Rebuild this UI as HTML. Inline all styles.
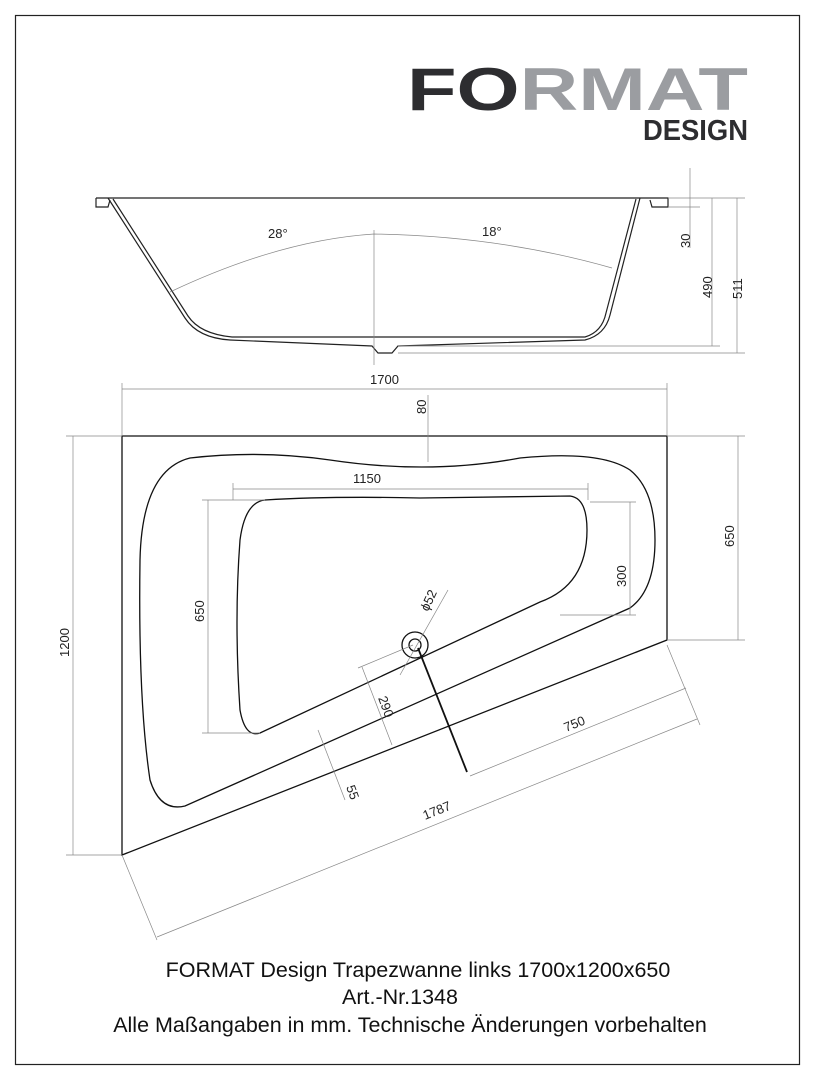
<!DOCTYPE html>
<html><head><meta charset="utf-8"><style>body{margin:0;background:#fff}svg{display:block}</style></head><body>
<svg width="816" height="1080" viewBox="0 0 816 1080" xmlns="http://www.w3.org/2000/svg" font-family="Liberation Sans, sans-serif">
<rect x="15.5" y="15.5" width="784" height="1049" fill="none" stroke="#222" stroke-width="1.2"/>
<!-- logo -->
<text x="407" y="110" font-size="60" font-weight="bold" textLength="341" lengthAdjust="spacingAndGlyphs"><tspan fill="#2d2d30">FO</tspan><tspan fill="#9b9da1">RMAT</tspan></text>
<text x="643" y="140" font-size="29" font-weight="bold" fill="#2d2d30" textLength="105" lengthAdjust="spacingAndGlyphs">DESIGN</text>
<!-- side view -->
<g fill="none" stroke="#222" stroke-width="1.2">
<path d="M96 198 H668 V207 H652 L650 200 M96 198 V207 H108 L110 200"/>
<path d="M108 198 L185 318 Q198 338 230 340 L372 346 L378 353 H392 L398 346 L585 340 Q605 335 610 315 L640 198"/>
<path d="M113 199 L188 316 Q200 334 232 337 L585 337 Q602 332 606 313 L636 199"/>
</g>
<g fill="none" stroke="#888" stroke-width="0.7">
<line x1="374" y1="230" x2="374" y2="365"/>
<path d="M170 292 Q280 240 374 234 Q500 236 612 268"/>
<line x1="690" y1="168" x2="690" y2="248"/><line x1="712" y1="198" x2="712" y2="346"/><line x1="737" y1="198" x2="737" y2="353"/>
<line x1="668" y1="198" x2="745" y2="198"/><line x1="668" y1="207" x2="700" y2="207"/>
<line x1="398" y1="346" x2="720" y2="346"/><line x1="398" y1="353" x2="745" y2="353"/>
</g>
<g font-size="13" fill="#222">
<text x="268" y="238">28°</text><text x="482" y="236">18°</text>
<text transform="translate(690,248) rotate(-90)">30</text>
<text transform="translate(712,298) rotate(-90)">490</text>
<text transform="translate(742,299) rotate(-90)">511</text>
</g>
<!-- plan view -->
<g fill="none" stroke="#111" stroke-width="1.3">
<path d="M122 436 H667 V640 L122 855 Z"/>
<path d="M190 458 Q260 450 330 460 Q430 475 520 458 Q600 450 630 470 Q655 490 655 540 Q655 590 630 608 L185 806 Q160 812 150 780 Q138 700 140 560 Q142 470 190 458 Z"/>
<path d="M265 500 Q330 496 420 498 L570 496 Q587 498 587 530 Q587 585 540 602 L260 733 Q245 738 240 710 Q234 620 240 540 Q245 502 265 500 Z"/>
<circle cx="415" cy="645" r="13"/><circle cx="415" cy="645" r="6"/>
<line x1="418" y1="648" x2="467" y2="772" stroke-width="1.8"/>
</g>
<g fill="none" stroke="#888" stroke-width="0.7">
<line x1="122" y1="383" x2="122" y2="436"/><line x1="667" y1="383" x2="667" y2="436"/><line x1="122" y1="389" x2="667" y2="389"/>
<line x1="428" y1="395" x2="428" y2="462"/>
<line x1="233" y1="483" x2="233" y2="500"/><line x1="588" y1="483" x2="588" y2="500"/><line x1="233" y1="489" x2="588" y2="489"/>
<line x1="202" y1="500" x2="265" y2="500"/><line x1="202" y1="733" x2="260" y2="733"/><line x1="208" y1="500" x2="208" y2="733"/>
<line x1="590" y1="502" x2="636" y2="502"/><line x1="560" y1="615" x2="636" y2="615"/><line x1="630" y1="502" x2="630" y2="615"/>
<line x1="667" y1="436" x2="745" y2="436"/><line x1="667" y1="640" x2="745" y2="640"/><line x1="738" y1="436" x2="738" y2="640"/>
<line x1="66" y1="436" x2="122" y2="436"/><line x1="66" y1="855" x2="122" y2="855"/><line x1="73" y1="436" x2="73" y2="855"/>
<line x1="400" y1="675" x2="448" y2="590"/>
<line x1="413" y1="645" x2="358" y2="668"/><line x1="362" y1="667" x2="392" y2="745"/>
<line x1="318" y1="730" x2="345" y2="800"/>
<line x1="470" y1="776" x2="686" y2="688"/><line x1="667" y1="645" x2="700" y2="725"/>
<line x1="122" y1="855" x2="157" y2="940"/><line x1="157" y1="937" x2="697" y2="719"/>
</g>
<g font-size="13" fill="#222">
<text x="370" y="384">1700</text>
<text transform="translate(426,414) rotate(-90)">80</text>
<text x="353" y="483">1150</text>
<text transform="translate(204,622) rotate(-90)">650</text>
<text transform="translate(626,587) rotate(-90)">300</text>
<text transform="translate(734,547) rotate(-90)">650</text>
<text transform="translate(69,657) rotate(-90)">1200</text>
<text transform="translate(428,612) rotate(-65)">ϕ52</text>
<text transform="translate(378,698) rotate(70)">290</text>
<text transform="translate(346,787) rotate(70)">55</text>
<text transform="translate(566,732) rotate(-22)">750</text>
<text transform="translate(425,820) rotate(-22)">1787</text>
</g>
<g font-size="21.5" fill="#111" text-anchor="middle">
<text x="418" y="977">FORMAT Design Trapezwanne links 1700x1200x650</text>
<text x="400" y="1004">Art.-Nr.1348</text>
<text x="410" y="1032">Alle Maßangaben in mm. Technische Änderungen vorbehalten</text>
</g>
</svg>
</body></html>
